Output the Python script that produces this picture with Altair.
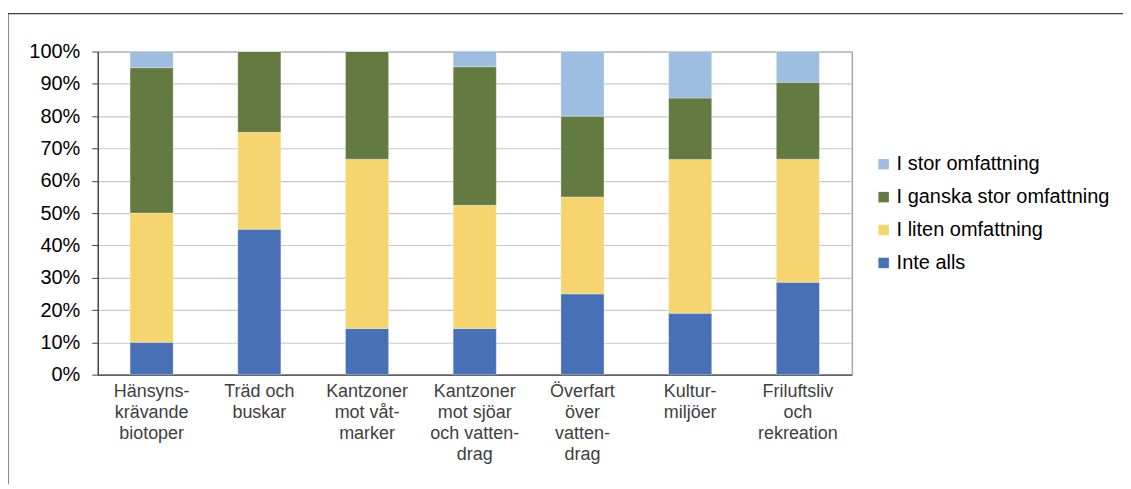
import altair as alt
import pandas as pd

categories = [
    "Hänsyns-|krävande|biotoper",
    "Träd och|buskar",
    "Kantzoner|mot våt-|marker",
    "Kantzoner|mot sjöar|och vatten-|drag",
    "Överfart|över|vatten-|drag",
    "Kultur-|miljöer",
    "Friluftsliv|och|rekreation",
]
series = ["Inte alls", "I liten omfattning", "I ganska stor omfattning", "I stor omfattning"]
inte_alls = [10.0, 45.0, 14.3, 14.3, 25.0, 19.0, 28.6]
liten = [40.0, 30.0, 52.4, 38.1, 30.0, 47.6, 38.1]
ganska_stor = [45.0, 25.0, 33.3, 42.9, 25.0, 19.0, 23.8]
stor = [5.0, 0.0, 0.0, 4.8, 20.0, 14.3, 9.5]
colors = ["#4770B6", "#F6D46E", "#637B40", "#9DBEE0"]

rows = []
for si, (name, vals) in enumerate(zip(series, [inte_alls, liten, ganska_stor, stor])):
    for c, v in zip(categories, vals):
        rows.append({"kategori": c, "serie": name, "andel": v / 100.0, "ordning": si})
df = pd.DataFrame(rows)

legend_order = list(reversed(series))
color_order = list(reversed(colors))

bars = alt.Chart(df).mark_bar(stroke="#ffffff", strokeWidth=0.6, strokeOpacity=0.5).encode(
    x=alt.X("kategori:N", sort=categories, title=None,
            scale=alt.Scale(paddingInner=0.6, paddingOuter=0.3),
            axis=alt.Axis(labelExpr="split(datum.label, '|')", labelAngle=0,
                          labelFont="Liberation Sans", labelFontSize=18,
                          labelColor="#404040", labelLineHeight=21,
                          labelPadding=8, ticks=False, domainColor="#404040",
                          domainWidth=1.3, grid=False, labelBaseline="top")),
    y=alt.Y("andel:Q", stack="zero", title=None,
            scale=alt.Scale(domain=[0, 1], nice=False),
            axis=alt.Axis(format=".0%", values=[i / 10 for i in range(11)],
                          labelFont="Liberation Sans", labelFontSize=20,
                          labelColor="#000000", tickSize=6, tickColor="#404040",
                          labelPadding=12, domainColor="#404040", domainWidth=1.3,
                          gridColor="#c8c8c8", gridWidth=1.2)),
    color=alt.Color("serie:N", title=None,
                    scale=alt.Scale(domain=legend_order, range=color_order),
                    legend=alt.Legend(orient="none", legendX=778, legendY=103,
                                      symbolType="square", symbolSize=110,
                                      symbolStrokeWidth=0, labelFont="Liberation Sans",
                                      labelFontSize=20, labelColor="#000000",
                                      labelOffset=3, rowPadding=13, padding=0,
                                      labelLimit=400)),
    order=alt.Order("ordning:Q", sort="ascending"),
)

frame_df = pd.DataFrame({"a": [0]})
top_line = alt.Chart(frame_df).mark_rule(color="#404040", strokeWidth=1.2).encode(
    x=alt.value(-90), x2=alt.value(1028), y=alt.value(-38))
left_line = alt.Chart(frame_df).mark_rule(color="#404040", strokeWidth=1.2).encode(
    x=alt.value(-90), y=alt.value(-38), y2=alt.value(434))

chart = alt.layer(bars, top_line, left_line).properties(
    width=756, height=324,
    padding={"left": 90, "top": 43, "right": 272, "bottom": 110},
    autosize=alt.AutoSizeParams(type="none"),
).configure_view(stroke="#808080", strokeWidth=1)

chart.save("out.html", embed_options={"renderer": "svg", "actions": False})
